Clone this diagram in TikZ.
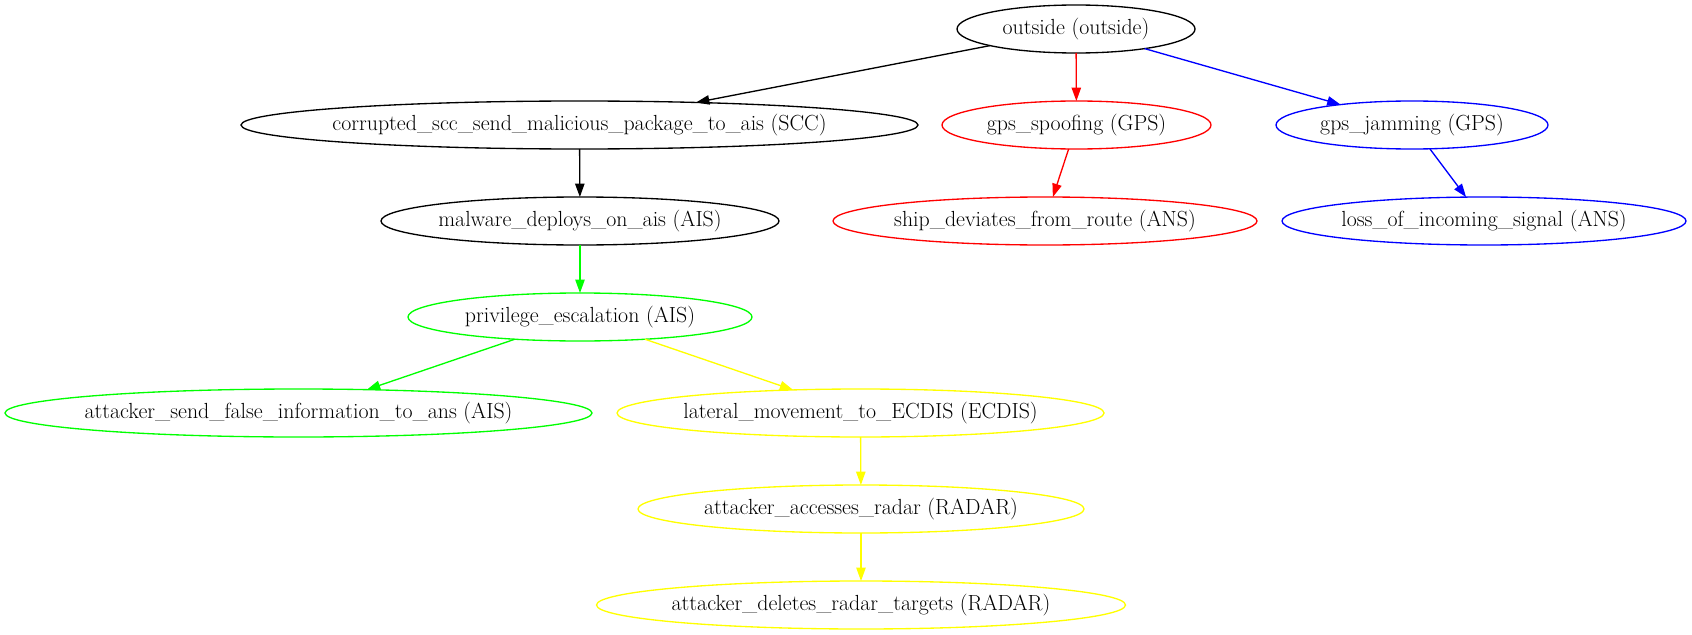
\documentclass[tikz,border=0pt]{standalone}
\usetikzlibrary{shapes.geometric,arrows.meta}
\definecolor{gvred}{RGB}{255,0,0}
\definecolor{gvblue}{RGB}{0,0,255}
\definecolor{gvgreen}{RGB}{0,255,0}
\definecolor{gvyellow}{RGB}{255,255,0}
\begin{document}
\begin{tikzpicture}[x=0.75pt,y=-0.75pt,
  gv/.style={ellipse, draw, line width=1pt, inner sep=0pt, outer sep=0pt,
    minimum height=36pt, minimum width={#1*0.75pt},
    font=\fontsize{16.4}{19}\selectfont},
  ed/.style={draw=#1, line width=1pt, -{Triangle[length=10pt,width=7pt]}}]
\useasboundingbox (0,0) rectangle (1692,635);
% row 1
\node[gv=238] (outside) at (1076,29) {\makebox[0pt]{outside (outside)}};
% row 2
\node[gv=677] (scc) at (579.5,125) {\makebox[0pt]{corrupted\_scc\_send\_malicious\_package\_to\_ais (SCC)}};
\node[gv=269, draw=gvred] (spoof) at (1076.5,125) {\makebox[0pt]{gps\_spoofing (GPS)}};
\node[gv=272, draw=gvblue] (jam) at (1412,125) {\makebox[0pt]{gps\_jamming (GPS)}};
% row 3
\node[gv=398] (malware) at (580,221) {\makebox[0pt]{malware\_deploys\_on\_ais (AIS)}};
\node[gv=424, draw=gvred] (ship) at (1045,221) {\makebox[0pt]{ship\_deviates\_from\_route (ANS)}};
\node[gv=404, draw=gvblue] (loss) at (1484,221) {\makebox[0pt]{loss\_of\_incoming\_signal (ANS)}};
% row 4
\node[gv=344, draw=gvgreen] (priv) at (580,317) {\makebox[0pt]{privilege\_escalation (AIS)}};
% row 5
\node[gv=587, draw=gvgreen] (false) at (298.5,413) {\makebox[0pt]{attacker\_send\_false\_information\_to\_ans (AIS)}};
\node[gv=487, draw=gvyellow] (lateral) at (860.5,413) {\makebox[0pt]{lateral\_movement\_to\_ECDIS (ECDIS)}};
% rows 6 and 7
\node[gv=446, draw=gvyellow] (access) at (861,509) {\makebox[0pt]{attacker\_accesses\_radar (RADAR)}};
\node[gv=529, draw=gvyellow] (delete) at (861,605) {\makebox[0pt]{attacker\_deletes\_radar\_targets (RADAR)}};
% edges
\draw[ed=black] (outside) -- (scc);
\draw[ed=gvred] (outside) -- (spoof);
\draw[ed=gvblue] (outside) -- (jam);
\draw[ed=black] (scc) -- (malware);
\draw[ed=gvred] (spoof) -- (ship);
\draw[ed=gvblue] (jam) -- (loss);
\draw[ed=gvgreen] (malware) -- (priv);
\draw[ed=gvgreen] (priv) -- (false);
\draw[ed=gvyellow] (priv) -- (lateral);
\draw[ed=gvyellow] (lateral) -- (access);
\draw[ed=gvyellow] (access) -- (delete);
\end{tikzpicture}
\end{document}
